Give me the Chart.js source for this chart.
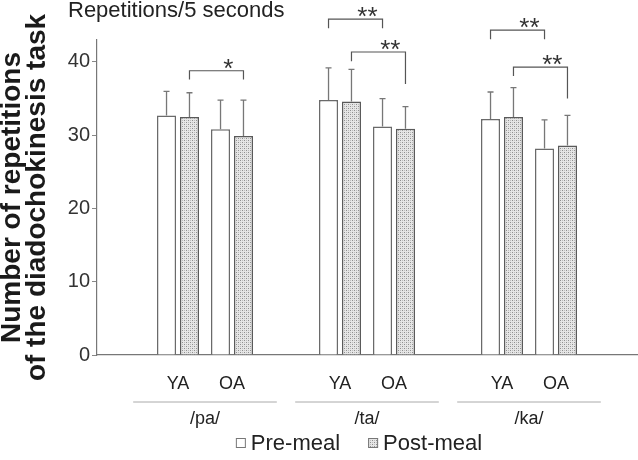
<!DOCTYPE html>
<html>
<head>
<meta charset="utf-8">
<script src="https://cdn.jsdelivr.net/npm/chart.js@4.4.1/dist/chart.umd.min.js"></script>
<style>
html, body { margin: 0; padding: 0; background: #fff; }
#wrap { width: 638px; height: 460px; }
</style>
</head>
<body>
<div id="wrap"><canvas id="chart" width="638" height="460"></canvas></div>
<script>
// data
const syllables = ['/pa/', '/ta/', '/ka/'];
const ageGroups = ['YA', 'OA'];
// order: pa YA, pa OA, ta YA, ta OA, ka YA, ka OA
const preMeal = [32.7, 30.8, 34.8, 31.2, 32.2, 28.2];
const postMeal = [32.5, 29.9, 34.6, 30.9, 32.5, 28.6];
const preSD = [3.3, 4.0, 4.4, 3.8, 3.7, 3.9];
const postSD = [3.3, 4.9, 4.4, 3.0, 4.0, 4.1];
const yTicks = [0, 10, 20, 30, 40];
const seriesNames = ['Pre-meal', 'Post-meal'];
// significance brackets (YA vs OA within a syllable), levels in y units
const sigGroup = [0, 1, 1, 2, 2];
const sigSeries = [1, 0, 1, 0, 1];
const sigLevel = [38.8, 45.85, 41.36, 44.35, 39.3];
const sigLeftEnd = [37.6, 44.6, 40.1, 43.1, 38.1];
const sigRightEnd = [37.6, 44.6, 37.0, 43.1, 35.0];
const sigLabel = ['*', '**', '**', '**', '**'];

const FONT = "'Liberation Sans', Arial, Helvetica, sans-serif";

// category axis: blank spacer, YA, OA, blank, YA, OA, ...
const labels = [];
const catIdx = [];
syllables.forEach(() => {
    labels.push('');
    ageGroups.forEach(a => { catIdx.push(labels.length); labels.push(a); });
});
labels.push('');

function spread(vals) {
    const out = labels.map(() => null);
    catIdx.forEach((ci, k) => { out[ci] = vals[k]; });
    return out;
}

const ctx = document.getElementById('chart').getContext('2d');

// stippled fill for post-meal bars
const tile = document.createElement('canvas');
tile.width = 4; tile.height = 4;
const t = tile.getContext('2d');
t.fillStyle = '#e6e6e6'; t.fillRect(0, 0, 4, 4);
t.fillStyle = '#8f8f8f'; t.fillRect(0, 0, 1, 1); t.fillRect(2, 2, 1, 1);
t.fillStyle = '#bdbdbd'; t.fillRect(2, 0, 1, 1); t.fillRect(0, 2, 1, 1);
const stipple = ctx.createPattern(tile, 'repeat');

const fills = ['#ffffff', stipple];
const borders = ['#6a6a6a', '#5a5a5a'];

const overlay = {
    id: 'overlay',
    afterDatasetsDraw(chart) {
        const c = chart.ctx;
        const area = chart.chartArea;
        const x = chart.scales.x, y = chart.scales.y;
        c.save();

        // error bars (upper SD only)
        [preSD, postSD].forEach((sd, d) => {
            const meta = chart.getDatasetMeta(d);
            const vals = d ? postMeal : preMeal;
            c.strokeStyle = '#777';
            c.lineWidth = 1.3;
            catIdx.forEach((ci, k) => {
                const bar = meta.data[ci];
                const top = y.getPixelForValue(vals[k] + sd[k]);
                c.beginPath();
                c.moveTo(bar.x, bar.y);
                c.lineTo(bar.x, top);
                c.moveTo(bar.x - 3, top);
                c.lineTo(bar.x + 3, top);
                c.stroke();
            });
        });

        // significance brackets
        c.strokeStyle = '#555';
        c.lineWidth = 1.2;
        c.fillStyle = '#333';
        c.font = '26px ' + FONT;
        c.textAlign = 'center';
        c.textBaseline = 'alphabetic';
        sigLevel.forEach((lv, i) => {
            const meta = chart.getDatasetMeta(sigSeries[i]);
            const x0 = meta.data[catIdx[sigGroup[i] * 2]].x;
            const x1 = meta.data[catIdx[sigGroup[i] * 2 + 1]].x;
            const yl = y.getPixelForValue(lv);
            c.beginPath();
            c.moveTo(x0, y.getPixelForValue(sigLeftEnd[i]));
            c.lineTo(x0, yl);
            c.lineTo(x1, yl);
            c.lineTo(x1, y.getPixelForValue(sigRightEnd[i]));
            c.stroke();
            c.fillText(sigLabel[i], x0 + (x1 - x0) * 0.72, yl + 6);
        });

        // syllable group lines and labels
        const step = x.getPixelForValue(1) - x.getPixelForValue(0);
        c.font = '18px ' + FONT;
        c.textBaseline = 'middle';
        syllables.forEach((s, g) => {
            const xa = x.getPixelForValue(catIdx[g * 2]);
            const xb = x.getPixelForValue(catIdx[g * 2 + 1]);
            c.strokeStyle = '#aaa';
            c.lineWidth = 1;
            c.beginPath();
            c.moveTo(xa - step * 0.83, area.bottom + 47);
            c.lineTo(xb + step * 0.83, area.bottom + 47);
            c.stroke();
            c.fillStyle = '#222';
            c.fillText(s, (xa + xb) / 2, area.bottom + 64);
        });

        // unit note at top
        c.textAlign = 'left';
        c.font = '22px ' + FONT;
        c.fillText('Repetitions/5 seconds', 68, 11);

        // legend
        c.font = '22px ' + FONT;
        const w0 = c.measureText(seriesNames[0]).width;
        const w1 = c.measureText(seriesNames[1]).width;
        const total = 10 + 5 + w0 + 28 + 10 + 5 + w1;
        let lx = (area.left + area.right) / 2 - 8 - total / 2;
        const ly = area.bottom + 88;
        seriesNames.forEach((n, d) => {
            c.fillStyle = fills[d];
            c.fillRect(lx, ly - 5, 10, 10);
            c.strokeStyle = '#777';
            c.lineWidth = 1;
            c.strokeRect(lx + 0.5, ly - 4.5, 9, 9);
            c.fillStyle = '#222';
            c.fillText(n, lx + 15, ly + 1);
            lx += 15 + (d ? w1 : w0) + 28;
        });
        c.restore();
    }
};

new Chart(ctx, {
    type: 'bar',
    data: {
        labels: labels,
        datasets: [0, 1].map(d => ({
            label: seriesNames[d],
            data: spread(d ? postMeal : preMeal),
            backgroundColor: fills[d],
            borderColor: borders[d],
            borderWidth: 1.5,
            borderSkipped: 'bottom',
            categoryPercentage: 0.85,
            barPercentage: 0.83
        }))
    },
    options: {
        responsive: false,
        animation: false,
        layout: { padding: { top: 40, right: 1, left: 0, bottom: 0 } },
        plugins: {
            legend: { display: false },
            tooltip: { enabled: false }
        },
        scales: {
            x: {
                offset: true,
                grid: { display: false },
                border: { color: '#777', width: 1.2 },
                ticks: {
                    autoSkip: false,
                    maxRotation: 0,
                    padding: 10,
                    color: '#222',
                    font: { size: 18, family: FONT }
                },
                afterFit: s => { s.height = 105; }
            },
            y: {
                min: 0,
                max: 43,
                afterBuildTicks: s => { s.ticks = yTicks.map(v => ({ value: v })); },
                grid: { drawOnChartArea: false, drawTicks: true, tickLength: 5, color: '#888' },
                border: { color: '#777', width: 1.2 },
                ticks: {
                    padding: 2,
                    color: '#333',
                    font: { size: 20, family: FONT }
                },
                title: {
                    display: true,
                    text: ['Number of repetitions', 'of the diadochokinesis task'],
                    color: '#1a1a1a',
                    font: { size: 28, weight: 'bold', family: FONT, lineHeight: 0.88 },
                    padding: { top: 0, bottom: 0 }
                },
                afterFit: s => { s.width = 97; }
            }
        }
    },
    plugins: [overlay]
});
</script>
</body>
</html>
